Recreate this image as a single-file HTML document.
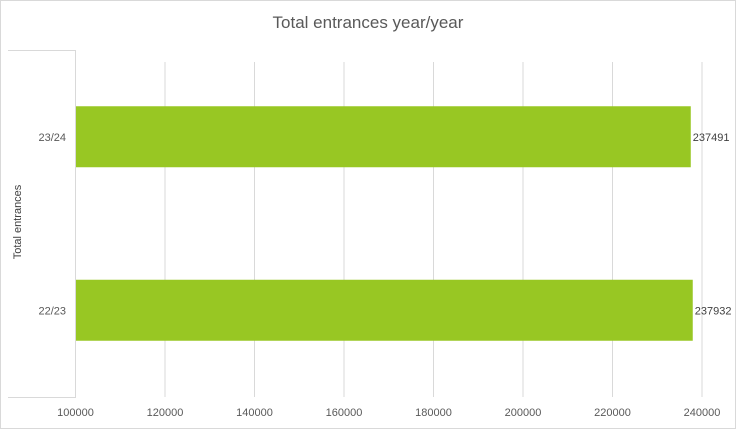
<!DOCTYPE html>
<html><head><meta charset="utf-8"><style>
body{margin:0;background:#fff}
svg{display:block;font-family:"Liberation Sans",sans-serif}
</style></head><body>
<svg id="c" width="736" height="429">
<rect x="0.5" y="0.5" width="735" height="428" fill="#fff" stroke="#d9d9d9"/>
<text x="368" y="28" text-anchor="middle" font-size="17" fill="#595959">Total entrances year/year</text>
<text transform="translate(21,222) rotate(-90)" text-anchor="middle" font-size="11" fill="#404040">Total entrances</text>
<path d="M8 50.5H75.5V397.5H8" fill="none" stroke="#d9d9d9"/>
<g id="grid"></g><g id="bars"></g><g id="labels"></g>
</svg>
<script>
const categories=["23/24","22/23"];
const values=[237491,237932];
const ticks=[100000,120000,140000,160000,180000,200000,220000,240000];
const x0=75.5,x1=702,vmin=100000,vmax=240000,plotTop=50,plotBottom=397;
const xs=v=>x0+(v-vmin)*(x1-x0)/(vmax-vmin);
const ns="http://www.w3.org/2000/svg";
const grid=document.getElementById('grid'),bars=document.getElementById('bars'),labels=document.getElementById('labels');
ticks.forEach(t=>{
 const l=document.createElementNS(ns,'line');
 l.setAttribute('x1',xs(t));l.setAttribute('x2',xs(t));l.setAttribute('y1',t===vmin?plotTop:62);l.setAttribute('y2',plotBottom);
 l.setAttribute('stroke','#d9d9d9');
 
 
 grid.appendChild(l);
 const tx=document.createElementNS(ns,'text');
 tx.setAttribute('x',xs(t));tx.setAttribute('y',416);tx.setAttribute('text-anchor','middle');tx.setAttribute('font-size','11');tx.setAttribute('fill','#595959');
 tx.textContent=t;
 
 
 labels.appendChild(tx);
});
const band=(plotBottom-plotTop)/categories.length;
categories.forEach((c,i)=>{
 const cy=plotTop+band*(i+0.5);
 const h=61;
 const r=document.createElementNS(ns,'rect');
 r.setAttribute('x',x0+0.5);r.setAttribute('y',cy-h/2);r.setAttribute('width',xs(values[i])-x0-0.5);r.setAttribute('height',h);r.setAttribute('fill','#98c723');
 
 
 bars.appendChild(r);
 const v=document.createElementNS(ns,'text');
 v.setAttribute('x',xs(values[i])+2);v.setAttribute('y',cy+4);v.setAttribute('font-size','11');v.setAttribute('fill','#404040');
 v.textContent=values[i];
 
 
 labels.appendChild(v);
 const cl=document.createElementNS(ns,'text');
 cl.setAttribute('x',66);cl.setAttribute('y',cy+4);cl.setAttribute('text-anchor','end');cl.setAttribute('font-size','11');cl.setAttribute('fill','#595959');
 cl.textContent=c;
 
 
 labels.appendChild(cl);
});
</script>
</body></html>
